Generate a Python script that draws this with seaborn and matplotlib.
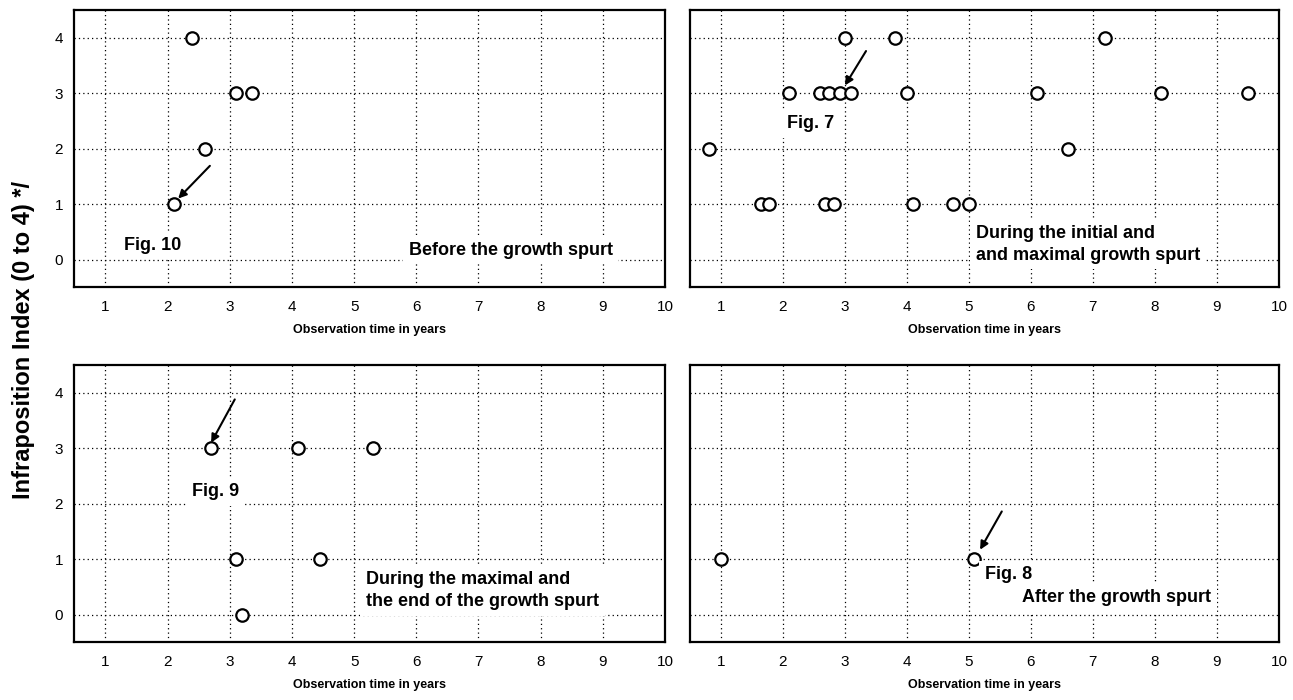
import matplotlib
matplotlib.use("Agg")
import pandas as pd
import matplotlib.pyplot as plt
import seaborn as sns

# Observation time (years) and infraposition index for each panel
before_time = [2.4, 3.1, 3.35, 2.6, 2.1]
before_index = [4, 3, 3, 2, 1]

initial_time = [3.0, 3.8, 7.2,
                2.1, 2.6, 2.75, 2.92, 3.1, 4.0, 6.1, 8.1, 9.5,
                0.8, 6.6,
                1.65, 1.77, 2.68, 2.82, 4.1, 4.75, 5.0]
initial_index = [4, 4, 4,
                 3, 3, 3, 3, 3, 3, 3, 3, 3,
                 2, 2,
                 1, 1, 1, 1, 1, 1, 1]

maximal_time = [2.7, 4.1, 5.3, 3.1, 4.45, 3.2]
maximal_index = [3, 3, 3, 1, 1, 0]

after_time = [1.0, 5.08]
after_index = [1, 1]

panel_titles = ["Before the growth spurt",
                "During the initial and\nand maximal growth spurt",
                "During the maximal and\nthe end of the growth spurt",
                "After the growth spurt"]
fig_labels = ["Fig. 10", "Fig. 7", "Fig. 9", "Fig. 8"]
x_ticks = [1, 2, 3, 4, 5, 6, 7, 8, 9, 10]
y_ticks = [0, 1, 2, 3, 4]

frames = []
for name, t, idx in zip(panel_titles,
                        [before_time, initial_time, maximal_time, after_time],
                        [before_index, initial_index, maximal_index, after_index]):
    frames.append(pd.DataFrame({"panel": name, "time": t, "index": idx}))
df = pd.concat(frames, ignore_index=True)

sns.set_theme(style="white")
plt.rcParams['font.family'] = ['Liberation Sans', 'DejaVu Sans']
plt.rcParams['text.color'] = 'black'
plt.rcParams['axes.labelcolor'] = 'black'
plt.rcParams['xtick.color'] = 'black'
plt.rcParams['ytick.color'] = 'black'

fig = plt.figure(figsize=(12.93, 7), dpi=100)
positions = [
    [0.0575, 0.5896, 0.4568, 0.3961],
    [0.5336, 0.5896, 0.4555, 0.3961],
    [0.0575, 0.0824, 0.4568, 0.3961],
    [0.5336, 0.0824, 0.4555, 0.3961],
]

# (text x, text y) for panel descriptions, fig labels and arrows (tail -> head)
desc_pos = [(5.88, 0.17), (5.11, 0.27), (5.19, 0.43), (5.86, 0.30)]
fig_pos = [(1.30, 0.26), (2.07, 2.45), (2.39, 2.22), (5.26, 0.72)]
arrows = [((2.68, 1.69), (2.17, 1.10)),
          ((3.34, 3.76), (3.00, 3.14)),
          ((3.08, 3.88), (2.70, 3.10)),
          ((5.53, 1.86), (5.18, 1.17))]

for i, name in enumerate(panel_titles):
    ax = fig.add_axes(positions[i])
    sub = df[df["panel"] == name]
    sns.scatterplot(data=sub, x="time", y="index", ax=ax, marker="o",
                    s=80, facecolor="white", edgecolor="black",
                    linewidth=1.6, zorder=4, legend=False)
    ax.set_xlim(0.5, 10)
    ax.set_ylim(-0.5, 4.5)
    ax.set_xticks(x_ticks)
    ax.set_yticks(y_ticks)
    ax.set_axisbelow(True)
    ax.grid(True, linestyle=(0, (1, 2.5)), color="black", linewidth=0.9)
    for sp in ax.spines.values():
        sp.set_visible(True)
        sp.set_color("black")
        sp.set_linewidth(1.6)
    ax.tick_params(axis="both", length=0, labelsize=11, colors="black")
    ax.tick_params(axis="x", pad=9)
    ax.tick_params(axis="y", pad=8)
    if i % 2 == 1:
        ax.set_yticklabels([])
    ax.set_xlabel("Observation time in years", fontsize=9, fontweight="bold",
                  labelpad=7)
    ax.set_ylabel("")

    ax.text(desc_pos[i][0], desc_pos[i][1], name, fontsize=13, fontweight="bold",
            ha="left", va="center", linespacing=1.35, zorder=5,
            bbox=dict(facecolor="white", edgecolor="none", pad=4))
    ax.text(fig_pos[i][0], fig_pos[i][1], fig_labels[i], fontsize=13,
            fontweight="bold", ha="left", va="center", zorder=5,
            bbox=dict(facecolor="white", edgecolor="none", pad=4))
    tail, head = arrows[i]
    ax.annotate("", xy=head, xytext=tail, zorder=6,
                arrowprops=dict(arrowstyle="-|>", color="black", lw=1.5,
                                mutation_scale=12, shrinkA=0, shrinkB=0))

fig.text(0.018, 0.514, "Infraposition Index (0 to 4) */", rotation=90,
         ha="center", va="center", fontsize=17, fontweight="bold")

fig.savefig("out.png", dpi=100)
